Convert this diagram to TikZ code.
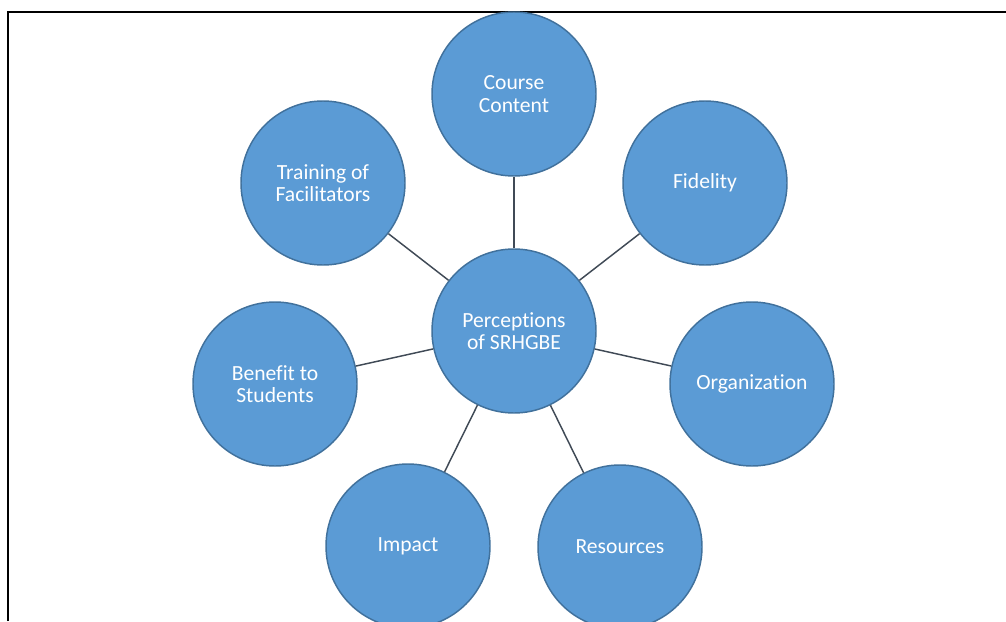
\documentclass[tikz,border=0pt]{standalone}
\usepackage{fontspec}
\setmainfont{Carlito}[Ligatures=NoCommon]
\usepackage{tikz}
\definecolor{bubble}{HTML}{5B9BD5}
\definecolor{bubbleedge}{HTML}{41719C}
\definecolor{spoke}{HTML}{404A56}

\begin{document}
\begin{tikzpicture}[x=0.75pt,y=-0.75pt,
  topic/.style={circle, fill=bubble, draw=bubbleedge, line width=1.1pt,
    minimum size=123pt, inner sep=0pt, align=center, text=white,
    font=\fontsize{16.2pt}{16.8pt}\selectfont},
  link/.style={spoke, line width=1.1pt}]
\useasboundingbox (0,0) rectangle (1006,621);
\clip (0,0) rectangle (1006,621);
\draw [line width=1.5pt] (8,621) -- (8,12) -- (1006,12);
\node [topic] (hub) at (514,331) {Perceptions\\of SRHGBE};
\node [topic] (course) at (514,94) {Course\\Content};
\node [topic] (fid) at (705,183) {Fidelity};
\node [topic] (org) at (752,384) {Organization};
\node [topic] (res) at (620,547) {Resources};
\node [topic] (imp) at (408,546) {Impact};
\node [topic] (ben) at (275,384) {Benefit to\\Students};
\node [topic] (train) at (323,183) {Training of\\Facilitators};
\foreach \t in {course,fid,org,res,imp,ben,train}
  \draw [link] (hub) -- (\t);
\end{tikzpicture}
\end{document}
